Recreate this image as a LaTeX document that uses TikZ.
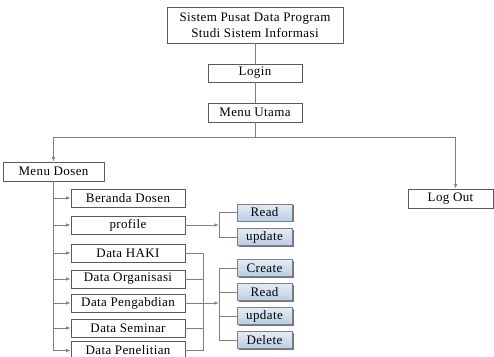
\documentclass[tikz,border=0pt]{standalone}
\usepackage{fontspec}
\setmainfont[LetterSpace=3]{Liberation Serif}
\usetikzlibrary{arrows.meta,shadows}
\definecolor{linegray}{HTML}{808080}
\definecolor{boxborder}{HTML}{5A5A5A}
\definecolor{bluetop}{HTML}{E3ECF6}
\definecolor{bluebot}{HTML}{B9CDE5}
\tikzset{
  wbox/.style={draw=boxborder, line width=0.8pt, fill=white, minimum height=18pt, inner sep=0pt, font=\fontsize{13}{15}\selectfont},
  lbox/.style={wbox, minimum width=114pt},
  bbox/.style={draw=linegray, line width=0.8pt, top color=bluetop, bottom color=bluebot, minimum width=55pt, minimum height=17pt, inner sep=0pt,
     font=\fontsize{13}{15}\selectfont,
     drop shadow={shadow xshift=1.6pt, shadow yshift=-1.4pt, fill=black!55, opacity=1}},
  conn/.style={draw=linegray, line width=0.8pt},
  arr/.style={conn, -{Latex[length=4.5pt,width=3.5pt]}},
}
\begin{document}
\begin{tikzpicture}[x=1pt,y=-1pt]
\useasboundingbox (0,0) rectangle (494,356);
% top chain
\node[wbox, minimum width=176pt, minimum height=36pt, align=center, font=\fontsize{13}{16}\selectfont] (top) at (255,25) {Sistem Pusat Data Program\\Studi Sistem Informasi};
\node[wbox, minimum width=94pt] (login) at (255,73) {Login};
\node[wbox, minimum width=94pt, minimum height=19pt] (menu) at (255,112.5) {Menu Utama};
\node[wbox, minimum width=101pt, minimum height=19pt] (dosen) at (53.5,171.5) {Menu Dosen};
\node[wbox, minimum width=85pt, minimum height=19pt] (logout) at (450.5,198.5) {Log Out};
% left column
\node[lbox] (beranda) at (128,198) {Beranda Dosen};
\node[lbox] (profile) at (128,225) {profile};
\node[lbox] (haki) at (128,253) {Data HAKI};
\node[lbox] (organisasi) at (128,279) {Data Organisasi};
\node[lbox] (pengabdian) at (128,303) {Data Pengabdian};
\node[lbox] (seminar) at (128,328) {Data Seminar};
\node[lbox] (penelitian) at (128,350.5) {Data Penelitian};
% blue boxes
\node[bbox] (read1) at (264.5,212.5) {Read};
\node[bbox] (update1) at (264.5,237) {update};
\node[bbox] (create) at (264.5,268) {Create};
\node[bbox] (read2) at (264.5,292) {Read};
\node[bbox] (update2) at (264.5,316) {update};
\node[bbox] (delete) at (264.5,340) {Delete};
% coordinates
\coordinate (hub) at (255,137);
\coordinate (pb) at (219,225);
\coordinate (cb) at (219,303);
\coordinate (dspine) at (203,303);
% connectors top
\draw[conn] (top.south) -- (login.north);
\draw[conn] (login.south) -- (menu.north);
\draw[conn] (menu.south) -- (hub);
\draw[arr] (hub) -| (dosen.north);
\draw[arr] (hub) -| ([xshift=5pt]logout.north);
% dosen spine
\draw[conn] (dosen.south) -- (dosen.south |- penelitian.west);
\foreach \n in {beranda,profile,haki,organisasi,pengabdian,seminar,penelitian}{
  \draw[arr] (dosen.south |- \n.west) -- (\n.west);
}
% profile bracket
\draw[arr] (profile.east) -- (pb);
\draw[conn] (read1.west) -- (pb |- read1.west) -- (pb |- update1.west) -- (update1.west);
% data spine
\draw[conn] (haki.east) -- (dspine |- haki.east) -- (dspine |- penelitian.east) -- (penelitian.east);
\foreach \n in {organisasi,seminar}{
  \draw[conn] (\n.east) -- (dspine |- \n.east);
}
\draw[conn] (pengabdian.east) -- (dspine);
\draw[arr] (dspine) -- (cb);
\draw[conn] (create.west) -- (cb |- create.west) -- (cb |- delete.west) -- (delete.west);
\draw[conn] (read2.west) -- (cb |- read2.west);
\draw[conn] (update2.west) -- (cb |- update2.west);
\end{tikzpicture}
\end{document}
